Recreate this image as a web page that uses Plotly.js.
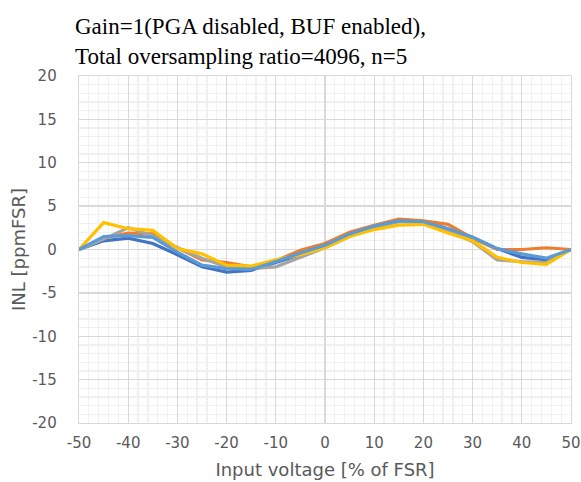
<!DOCTYPE html>
<html>
<head>
<meta charset="utf-8">
<script src="https://cdn.plot.ly/plotly-3.0.1.min.js"></script>
<style>html,body{margin:0;padding:0;background:#fff;}#chart{width:581px;height:482px;}</style>
</head>
<body>
<div id="chart"></div>
<script>
const xVals = [-50,-45,-40,-35,-30,-25,-20,-15,-10,-5,0,5,10,15,20,25,30,35,40,45,50];
const seriesBlue      = [0, 1.0, 1.3, 0.7, -0.6, -2.0, -2.6, -2.4, -1.5, -0.6, 0.5, 1.6, 2.7, 3.3, 3.2, 2.4, 1.4, 0.1, -0.9, -1.2, 0];
const seriesOrange    = [0, 1.3, 1.9, 1.8, 0.2, -1.2, -1.5, -2.0, -1.3, -0.1, 0.7, 2.0, 2.8, 3.5, 3.3, 2.9, 1.3, 0.0, 0.0, 0.2, 0];
const seriesGray      = [0, 1.2, 2.5, 1.6, 0.2, -1.0, -2.0, -2.2, -2.0, -0.9, 0.2, 1.5, 2.5, 3.2, 3.1, 2.2, 0.9, -1.2, -1.4, -1.5, 0];
const seriesYellow    = [0, 3.1, 2.4, 2.2, 0.1, -0.5, -1.8, -1.9, -1.2, -0.6, 0.2, 1.5, 2.3, 2.8, 2.9, 1.9, 1.0, -0.9, -1.5, -1.7, 0];
const seriesLightBlue = [0, 1.5, 1.6, 1.4, -0.3, -1.8, -2.2, -2.3, -1.4, -0.4, 0.5, 1.8, 2.7, 3.3, 3.2, 2.4, 1.4, 0.1, -0.5, -1.0, 0];
const xTickVals = [-50,-40,-30,-20,-10,0,10,20,30,40,50];
const xTickText = ['-50','-40','-30','-20','-10','0','10','20','30','40','50'];
const yTickVals = [-20,-15,-10,-5,0,5,10,15,20];
const yTickText = ['-20','-15','-10','-5','0','5','10','15','20'];

const series = [
  {y: seriesBlue, color: '#4472C4'},
  {y: seriesOrange, color: '#ED7D31'},
  {y: seriesGray, color: '#A5A5A5'},
  {y: seriesYellow, color: '#FFC000'},
  {y: seriesLightBlue, color: '#5B9BD5'}
];
const traces = series.map(s => ({
  x: xVals, y: s.y, type: 'scatter', mode: 'lines',
  line: {color: s.color, width: 3.2}, showlegend: false, hoverinfo: 'skip'
}));

const tickFont = {family: 'DejaVu Sans', size: 15, color: '#595959'};
const layout = {
  width: 581, height: 482,
  margin: {l: 79, r: 10, t: 76, b: 59},
  paper_bgcolor: '#fff', plot_bgcolor: '#fff',
  title: {
    text: 'Gain=1(PGA disabled, BUF enabled),<br>Total oversampling ratio=4096, n=5',
    font: {family: 'Liberation Serif', size: 23, color: '#000'},
    x: 75/581, xanchor: 'left', xref: 'container', yref: 'container', y: 1 - 34/482, yanchor: 'middle'
  },
  xaxis: {
    range: [-50, 50], tickvals: xTickVals, ticktext: xTickText, ticks: '', tickfont: tickFont,
    ticklabelstandoff: 6,
    showgrid: true, gridcolor: '#d9d9d9', gridwidth: 1.3,
    minor: {dtick: 2, showgrid: true, gridcolor: '#f0f0f0', gridwidth: 1.3},
    zeroline: false, zerolinecolor: '#d9d9d9', showline: true, linecolor: '#d9d9d9', linewidth: 1.3, mirror: true,
    title: {text: 'Input voltage [% of FSR]', font: {family: 'DejaVu Sans', size: 18, color: '#595959'}, standoff: 12}
  },
  yaxis: {
    range: [-20, 20], tickvals: yTickVals, ticktext: yTickText, ticks: '', tickfont: tickFont,
    ticklabelstandoff: 18,
    showgrid: true, gridcolor: '#d9d9d9', gridwidth: 1.3,
    minor: {dtick: 1, showgrid: true, gridcolor: '#f0f0f0', gridwidth: 1.3},
    zeroline: false, zerolinecolor: '#d9d9d9', showline: true, linecolor: '#d9d9d9', linewidth: 1.3, mirror: true,
    title: {text: 'INL [ppmFSR]', font: {family: 'DejaVu Sans', size: 18, color: '#595959'}, standoff: 2}
  }
};
Plotly.newPlot('chart', traces, layout, {displayModeBar: false, staticPlot: true});
</script>
</body>
</html>
